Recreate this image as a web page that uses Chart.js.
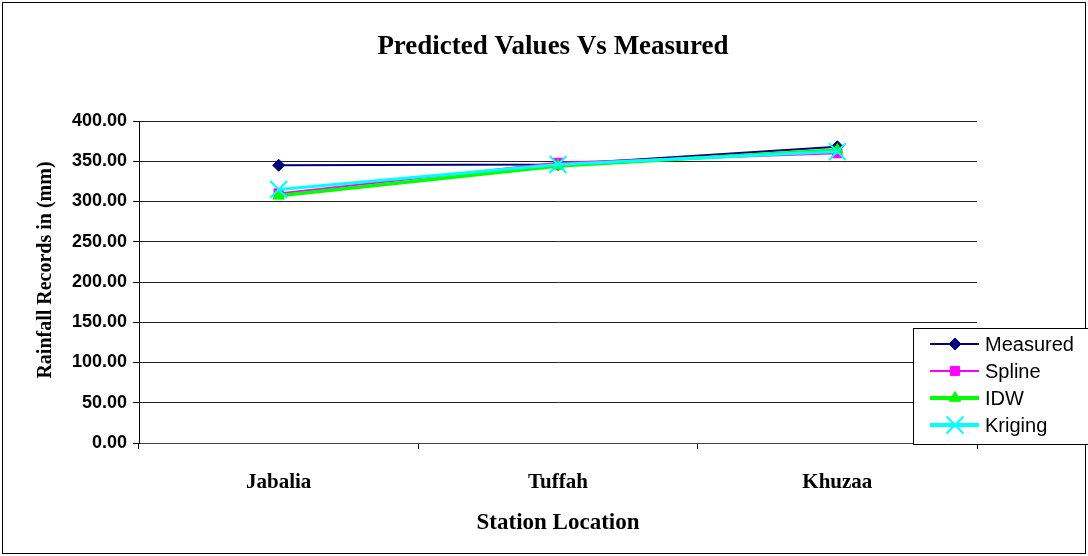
<!DOCTYPE html>
<html><head><meta charset="utf-8">
<script src="https://cdn.jsdelivr.net/npm/chart.js"></script>
<style>html,body{margin:0;padding:0;background:#fff;overflow:hidden}canvas{display:block}</style>
</head><body>
<canvas id="c" width="1088" height="556"></canvas>
<script>
const categories = ['Jabalia', 'Tuffah', 'Khuzaa'];
const measured = [345, 346, 368];
const spline = [310, 348, 360];
const idw = [307, 344, 364];
const kriging = [315, 346, 362];
const seriesNames = ['Measured', 'Spline', 'IDW', 'Kriging'];
const yTickValues = [0, 50, 100, 150, 200, 250, 300, 350, 400];
const chartTitle = 'Predicted Values Vs Measured';
const xTitle = 'Station Location';
const yTitle = 'Rainfall Records in (mm)';

const styles = [
  {color: '#000080', width: 2, legendWidth: 2, point: 'rectRot', r: 6, bw: 1},
  {color: '#FF00FF', width: 2, legendWidth: 2, point: 'rect', r: 6.5, bw: 1},
  {color: '#00FF00', width: 3.5, legendWidth: 4, point: 'triangle', r: 6.5, bw: 1},
  {color: '#00FFFF', width: 3, legendWidth: 4, point: 'crossRot', r: 12, bw: 2}
];
const seriesData = [measured, spline, idw, kriging];

const datasets = seriesNames.map((name, i) => ({
  label: name,
  data: seriesData[i],
  borderColor: styles[i].color,
  backgroundColor: styles[i].color,
  borderWidth: styles[i].width,
  pointStyle: styles[i].point,
  pointRadius: styles[i].r,
  pointHoverRadius: styles[i].r,
  pointBorderWidth: styles[i].bw,
  pointBorderColor: styles[i].color,
  pointBackgroundColor: styles[i].color,
  tension: 0,
  fill: false,
  order: seriesNames.length - 1 - i
}));

const framePlugin = {
  id: 'frame',
  beforeDraw(chart) {
    const ctx = chart.ctx;
    ctx.save();
    ctx.fillStyle = '#fff';
    ctx.fillRect(0, 0, chart.width, chart.height);
    ctx.strokeStyle = '#000';
    ctx.lineWidth = 1;
    ctx.strokeRect(2.5, 2.5, 1083, 551);
    ctx.restore();
  },
  afterDraw(chart) {
    // y-axis title, placed as in the reference (slightly above the plot's centre)
    const ctx = chart.ctx;
    ctx.save();
    ctx.translate(46, 270);
    ctx.rotate(-Math.PI / 2);
    ctx.font = 'bold 20px "Liberation Serif", "Times New Roman", serif';
    ctx.fillStyle = '#000';
    ctx.textAlign = 'center';
    ctx.textBaseline = 'middle';
    ctx.fillText(yTitle, 0, 0);
    ctx.restore();
  }
};

function drawMarker(ctx, st, x, y) {
  if (Chart.helpers && Chart.helpers.drawPoint) {
    ctx.save();
    ctx.fillStyle = st.color;
    ctx.strokeStyle = st.color;
    ctx.lineWidth = st.bw;
    Chart.helpers.drawPoint(ctx, {pointStyle: st.point, radius: st.r, rotation: 0, borderWidth: st.bw}, x, y);
    ctx.restore();
  }
}

const legendPlugin = {
  id: 'boxLegend',
  afterDraw(chart) {
    const ctx = chart.ctx;
    ctx.save();
    const bx = 913.5, by = 328.5, bw = 1088 - 913, bh = 116;
    ctx.fillStyle = '#fff';
    ctx.fillRect(bx, by, bw, bh);
    ctx.strokeStyle = '#000';
    ctx.lineWidth = 1;
    ctx.strokeRect(bx, by, bw, bh);
    ctx.font = '20px "Liberation Sans", Arial, sans-serif';
    ctx.textBaseline = 'middle';
    ctx.textAlign = 'left';
    seriesNames.forEach((name, i) => {
      const st = styles[i];
      const y = 344 + 27 * i;
      ctx.strokeStyle = st.color;
      ctx.lineWidth = st.legendWidth;
      ctx.beginPath();
      ctx.moveTo(930, y);
      ctx.lineTo(979, y);
      ctx.stroke();
      drawMarker(ctx, st, 955, y);
      ctx.fillStyle = '#000';
      ctx.fillText(name, 985, y + 1);
    });
    ctx.restore();
  }
};

new Chart(document.getElementById('c'), {
  type: 'line',
  data: {labels: categories, datasets},
  plugins: [framePlugin, legendPlugin],
  options: {
    responsive: false,
    animation: false,
    devicePixelRatio: 1,
    layout: {padding: {left: 18, right: 0, top: 0, bottom: 0}},
    plugins: {
      legend: {display: false},
      tooltip: {enabled: false},
      title: {
        display: true,
        text: chartTitle,
        color: '#000',
        font: {family: '"Liberation Serif", "Times New Roman", serif', size: 27, weight: 'bold', lineHeight: 1.2},
        padding: {top: 31, bottom: 57.6}
      }
    },
    scales: {
      x: {
        type: 'category',
        offset: true,
        grid: {display: true, drawOnChartArea: false, offset: true, tickLength: 6, color: '#000', tickColor: '#000'},
        border: {display: true, color: '#444', width: 1},
        ticks: {color: '#000', padding: 21, maxRotation: 0,
          font: {family: '"Liberation Serif", "Times New Roman", serif', size: 21, weight: 'bold'}},
        title: {display: true, text: xTitle, color: '#000',
          font: {family: '"Liberation Serif", "Times New Roman", serif', size: 23, weight: 'bold', lineHeight: 1.2},
          padding: {top: 0, bottom: 19}},
        afterFit(s) { s.height = 113; }
      },
      y: {
        type: 'linear',
        min: 0, max: 400,
        afterBuildTicks(s) { s.ticks = yTickValues.map(v => ({value: v})); },
        grid: {display: true, drawOnChartArea: true, tickLength: 6, color: '#222', tickColor: '#000', lineWidth: 1},
        border: {display: true, color: '#000', width: 1},
        ticks: {color: '#000', padding: 6, callback: v => Number(v).toFixed(2),
          font: {family: '"Liberation Sans", Arial, sans-serif', size: 18, weight: 'bold'}},
        title: {display: false},
        afterFit(s) { s.width = 139 - 18; }
      },
      y2: {
        type: 'linear',
        position: 'right',
        display: true,
        grid: {display: false, drawTicks: false},
        border: {display: false},
        ticks: {display: false},
        afterFit(s) { s.width = 1088 - 977; }
      }
    }
  }
});
</script>
</body></html>
